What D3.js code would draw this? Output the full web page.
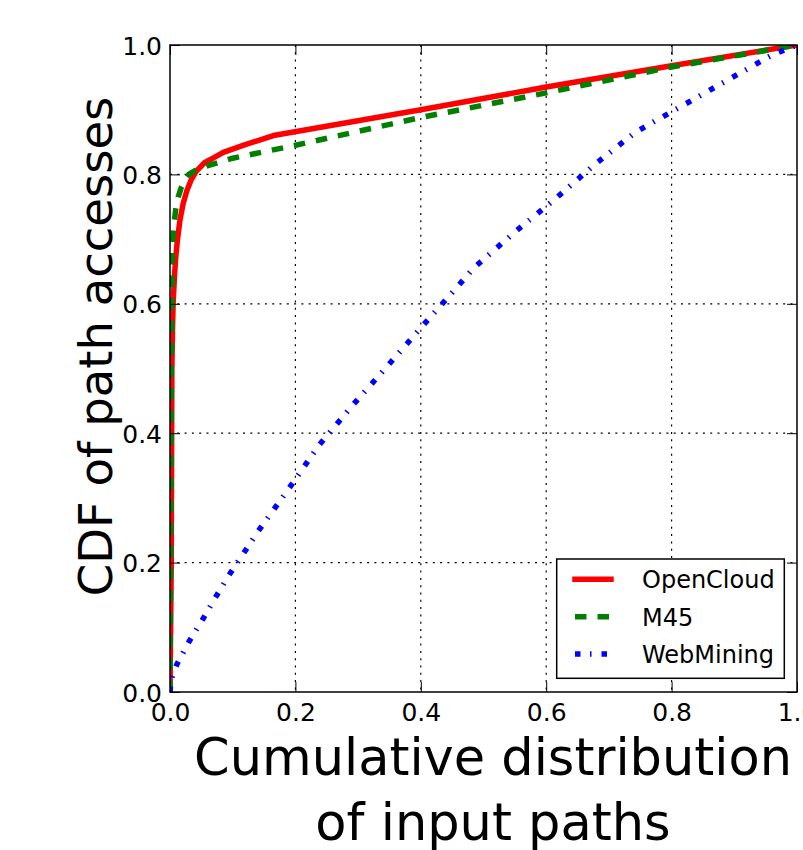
<!DOCTYPE html>
<html>
<head>
<meta charset="utf-8">
<script src="https://cdn.jsdelivr.net/npm/d3@7"></script>
<style>
  html, body { margin: 0; padding: 0; background: #fff; }
  svg { display: block; font-family: "DejaVu Sans", sans-serif; }
</style>
</head>
<body>
<svg id="chart" width="803" height="850"></svg>
<script>
// ---- data ----
const seriesNames = ["OpenCloud", "M45", "WebMining"];
const seriesColors = ["#ff0000", "#008000", "#0000ff"];

const openCloudX = [0, 0.002, 0.003, 0.004, 0.005, 0.007, 0.009, 0.012, 0.016, 0.021, 0.027, 0.034, 0.042, 0.055, 0.07, 0.085, 0.12, 0.165, 0.4, 0.6, 0.8, 1.0];
const openCloudY = [0, 0.2, 0.5, 0.56, 0.6, 0.64, 0.67, 0.70, 0.73, 0.755, 0.775, 0.792, 0.805, 0.818, 0.826, 0.834, 0.846, 0.86, 0.90, 0.935, 0.968, 1.0];

const m45X = [0, 0.001, 0.002, 0.003, 0.004, 0.006, 0.009, 0.013, 0.018, 0.024, 0.03, 0.04, 0.059, 0.1, 0.2, 0.4, 0.6, 0.8, 1.0];
const m45Y = [0, 0.2, 0.5, 0.65, 0.69, 0.72, 0.745, 0.765, 0.78, 0.792, 0.80, 0.806, 0.813, 0.825, 0.845, 0.888, 0.926, 0.966, 1.0];

const webMiningX = [0, 0.002, 0.011, 0.031, 0.052, 0.073, 0.095, 0.141, 0.19, 0.238, 0.292, 0.347, 0.402, 0.458, 0.485, 0.549, 0.613, 0.677, 0.742, 0.815, 0.888, 0.961, 1.0];
const webMiningY = [0, 0.02, 0.043, 0.079, 0.112, 0.147, 0.182, 0.249, 0.315, 0.382, 0.444, 0.504, 0.565, 0.626, 0.656, 0.71, 0.761, 0.815, 0.865, 0.905, 0.945, 0.985, 1.0];

const xTicks = [0, 0.2, 0.4, 0.6, 0.8, 1.0];
const yTicks = [0, 0.2, 0.4, 0.6, 0.8, 1.0];
const xLabelLines = ["Cumulative distribution", "of input paths"];
const yLabel = "CDF of path accesses";

// ---- layout ----
const L = 170, R = 797, T = 45, B = 692;
const svg = d3.select("#chart");
const x = d3.scaleLinear().domain([0, 1]).range([L, R]);
const y = d3.scaleLinear().domain([0, 1]).range([B, T]);

// grid
const grid = svg.append("g");
grid.selectAll("line.gx").data(xTicks.slice(1, -1)).enter().append("line")
  .attr("x1", d => x(d)).attr("x2", d => x(d)).attr("y1", T).attr("y2", B)
  .attr("stroke", "#000").attr("stroke-width", 1.2).attr("stroke-dasharray", "2,5.3");
grid.selectAll("line.gy").data(yTicks.slice(1, -1)).enter().append("line")
  .attr("y1", d => y(d)).attr("y2", d => y(d)).attr("x1", L).attr("x2", R)
  .attr("stroke", "#000").attr("stroke-width", 1.2).attr("stroke-dasharray", "2,5.3");

// clip
svg.append("clipPath").attr("id", "clip").append("rect")
  .attr("x", L).attr("y", T).attr("width", R - L).attr("height", B - T);

const series = [
  { name: seriesNames[0], color: seriesColors[0], xs: openCloudX, ys: openCloudY, dash: null, cap: "square" },
  { name: seriesNames[1], color: seriesColors[1], xs: m45X, ys: m45Y, dash: "11.5,11", cap: "butt" },
  { name: seriesNames[2], color: seriesColors[2], xs: webMiningX, ys: webMiningY, dash: "5.5,9.5,1.5,10", cap: "butt" }
];

const line = d3.line().x(d => x(d[0])).y(d => y(d[1]));
const plot = svg.append("g").attr("clip-path", "url(#clip)");
series.forEach(s => {
  const pts = s.xs.map((v, i) => [v, s.ys[i]]);
  plot.append("path").datum(pts).attr("d", line)
    .attr("fill", "none").attr("stroke", s.color).attr("stroke-width", 5.5)
    .attr("stroke-linejoin", "round").attr("stroke-linecap", s.cap)
    .attr("stroke-dasharray", s.dash);
});

// frame
svg.append("rect").attr("x", L).attr("y", T).attr("width", R - L).attr("height", B - T)
  .attr("fill", "none").attr("stroke", "#000").attr("stroke-width", 1.5);

// axes with inward ticks (bottom/top/left/right)
const fmt = d3.format(".1f");
const tickLen = 10;
const axB = svg.append("g").attr("transform", `translate(0,${B})`)
  .call(d3.axisBottom(x).tickValues(xTicks).tickFormat(fmt).tickSizeInner(-tickLen).tickSizeOuter(0).tickPadding(14));
const axT = svg.append("g").attr("transform", `translate(0,${T})`)
  .call(d3.axisTop(x).tickValues(xTicks).tickFormat("").tickSizeInner(-tickLen).tickSizeOuter(0));
const axL = svg.append("g").attr("transform", `translate(${L},0)`)
  .call(d3.axisLeft(y).tickValues(yTicks).tickFormat(fmt).tickSizeInner(-tickLen).tickSizeOuter(0).tickPadding(8));
const axR = svg.append("g").attr("transform", `translate(${R},0)`)
  .call(d3.axisRight(y).tickValues(yTicks).tickFormat("").tickSizeInner(-tickLen).tickSizeOuter(0));
[axB, axT, axL, axR].forEach(a => {
  a.select(".domain").remove();
  a.selectAll(".tick line").attr("stroke", "#000").attr("stroke-width", 1);
  a.selectAll("text").attr("font-family", "DejaVu Sans").attr("font-size", 25).attr("fill", "#000");
});
axB.selectAll("text").attr("dy", null).attr("y", 29);
axL.selectAll("text").attr("dy", "0.36em");

// axis labels
const xl = svg.append("text").attr("text-anchor", "middle").attr("font-size", 51).attr("fill", "#000");
xl.selectAll("tspan").data(xLabelLines).enter().append("tspan")
  .attr("x", 493).attr("y", (d, i) => 775 + i * 65).text(d => d);

svg.append("text").attr("transform", "translate(112,346.5) rotate(-90)")
  .attr("text-anchor", "middle").attr("font-size", 46.5).attr("fill", "#000").text(yLabel);

// legend
const lg = svg.append("g");
lg.append("rect").attr("x", 556.7).attr("y", 559).attr("width", 227.6).attr("height", 119.3)
  .attr("fill", "#fff").attr("stroke", "#000").attr("stroke-width", 1.5);
series.forEach((s, i) => {
  const yy = 579.3 + i * 37.4;
  lg.append("line").attr("x1", 575).attr("x2", 611).attr("y1", yy).attr("y2", yy)
    .attr("stroke", s.color).attr("stroke-width", 5.5).attr("stroke-linecap", s.cap)
    .attr("stroke-dasharray", s.dash);
  lg.append("text").attr("x", 642).attr("y", yy + 9).attr("font-size", 24).attr("fill", "#000").text(s.name);
});
</script>
</body>
</html>
